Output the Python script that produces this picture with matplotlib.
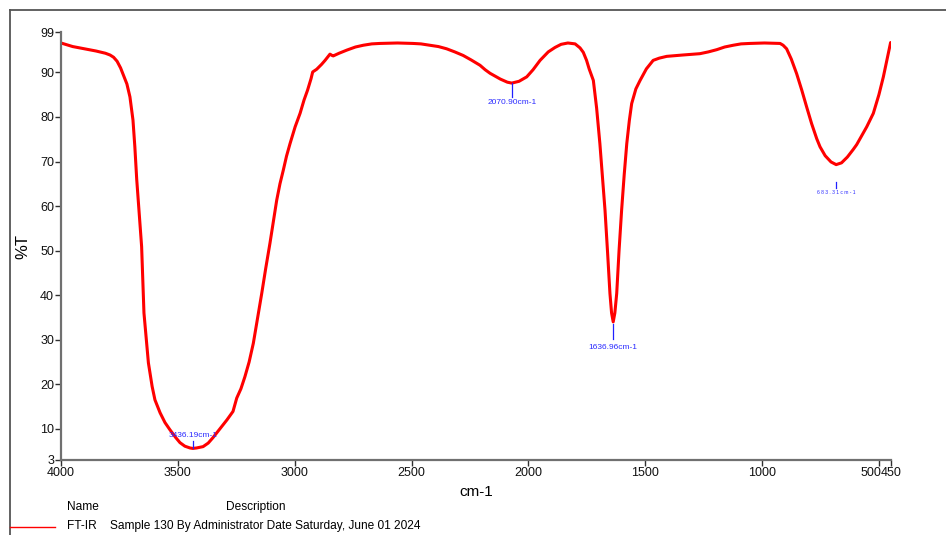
import matplotlib
matplotlib.use("Agg")
import matplotlib.pyplot as plt
from matplotlib.lines import Line2D
from matplotlib.transforms import ScaledTranslation

plt.rcParams['font.family'] = ['Liberation Sans', 'DejaVu Sans']
fs = 8.6

# Spectrum trace (wavenumber cm-1, %T)
wavenumber = [4000, 3950, 3900, 3850, 3810, 3790, 3775, 3760, 3745, 3730, 3718, 3705, 3692,
              3684, 3676, 3665, 3655, 3645, 3626, 3610, 3598, 3576, 3555, 3534,
              3510, 3491, 3470, 3448, 3436, 3420, 3392, 3370, 3350, 3320, 3290,
              3264, 3248, 3230, 3213, 3195, 3177, 3160, 3141, 3124, 3106, 3090,
              3077, 3063, 3049, 3035, 3020, 2998, 2977, 2960, 2945, 2930, 2923,
              2906, 2885, 2870, 2858, 2849, 2840, 2835, 2810, 2777, 2740, 2706,
              2670, 2635, 2560, 2494, 2460, 2421, 2385, 2350, 2315, 2279, 2245,
              2207, 2185, 2164, 2120, 2090, 2071, 2040, 2007, 1980, 1950, 1915,
              1886, 1860, 1831, 1800, 1779, 1765, 1751, 1740, 1722, 1708, 1694,
              1683, 1672, 1661, 1651, 1644, 1637, 1630, 1622, 1612, 1601, 1590,
              1579, 1568, 1558, 1540, 1522, 1495, 1466, 1440, 1408, 1340, 1266,
              1230, 1194, 1160, 1123, 1090, 1052, 990, 923, 910, 895, 875, 852,
              830, 809, 788, 766, 752, 730, 705, 683, 660, 635, 610, 595, 581,
              552, 524, 500, 481, 465, 450]
transmittance = [96.6, 95.8, 95.3, 94.8, 94.3, 93.9, 93.4, 92.5, 91.0, 89.0, 87.4, 84.5, 79.3,
                 73.3, 66.0, 58.0, 50.9, 36.0, 24.8, 19.5, 16.5, 13.6, 11.4, 9.8,
                 8.1, 6.9, 6.1, 5.7, 5.6, 5.7, 6.0, 6.8, 8.0, 10.0, 12.0,
                 13.9, 16.9, 19.0, 21.7, 25.0, 29.2, 34.5, 40.4, 46.0, 51.6, 57.0,
                 61.3, 65.0, 68.0, 71.2, 74.0, 77.8, 80.8, 83.8, 86.0, 88.6, 90.1,
                 90.7, 91.8, 92.7, 93.5, 94.1, 93.8, 93.7, 94.3, 95.0, 95.7, 96.1,
                 96.4, 96.5, 96.6, 96.5, 96.4, 96.1, 95.8, 95.3, 94.6, 93.8, 92.8,
                 91.6, 90.6, 89.8, 88.5, 87.8, 87.6, 88.0, 89.0, 90.6, 92.7, 94.6,
                 95.6, 96.3, 96.6, 96.4, 95.5, 94.5, 92.7, 90.8, 88.2, 82.0, 74.0,
                 66.5, 59.0, 49.5, 40.4, 36.0, 34.0, 36.0, 40.4, 50.0, 59.1, 67.0,
                 74.0, 79.2, 83.0, 86.3, 88.2, 90.8, 92.7, 93.2, 93.6, 93.9, 94.2,
                 94.6, 95.1, 95.7, 96.1, 96.4, 96.5, 96.6, 96.5, 96.1, 95.3, 93.0, 89.7,
                 86.0, 82.2, 78.5, 75.1, 73.3, 71.3, 69.9, 69.3, 69.7, 71.0, 72.7, 73.8, 75.1,
                 77.8, 80.8, 85.0, 89.0, 93.0, 96.7]

# Peak labels
peak_positions = [3436.19, 2070.90, 1636.96, 683.31]
peak_labels = ["3436.19cm-1", "2070.90cm-1", "1636.96cm-1", "6 8 3 . 3 1 c m - 1"]

x_ticks = [4000, 3500, 3000, 2500, 2000, 1500, 1000, 500, 450]
y_ticks = [99, 90, 80, 70, 60, 50, 40, 30, 20, 10, 3]

W, H = 946, 535
fig = plt.figure(figsize=(W / 100, H / 100), dpi=100)
ax = fig.add_axes([61 / W, 1 - 460 / H, 829.6 / W, (460 - 32.3) / H])

ax.plot(wavenumber, transmittance, color='#ff0000', lw=2.2, solid_capstyle='round',
        solid_joinstyle='round')
ax.set_xlim(4000, 450)
ax.set_ylim(3, 99)
ax.set_xticks(x_ticks)
ax.set_xticklabels([str(t) for t in x_ticks])
ax.set_yticks(y_ticks)
ax.set_yticklabels([str(t) for t in y_ticks])

for s in ['top', 'right']:
    ax.spines[s].set_visible(False)
for s in ['left', 'bottom']:
    ax.spines[s].set_color('#707070')
    ax.spines[s].set_linewidth(1.6)
ax.tick_params(axis='both', direction='out', length=4, width=1, color='#303030',
               labelsize=fs + 0.4, labelcolor='#111111', pad=1)
labels = ax.get_xticklabels()
labels[-2].set_horizontalalignment('right')
labels[-2].set_transform(labels[-2].get_transform() + ScaledTranslation(2 / 100, 0, fig.dpi_scale_trans))
labels[-1].set_horizontalalignment('left')
labels[-1].set_transform(labels[-1].get_transform() + ScaledTranslation(-9.6 / 100, 0, fig.dpi_scale_trans))

ax.set_xlabel('cm-1', fontsize=11, labelpad=4)
ax.set_ylabel('%T', fontsize=12, labelpad=7)

# Peak annotations: (tick bottom, tick top, text centre, text size)
ann_cfg = [
    ((5.8, 7.2), 8.6, 6.0),
    ((84.5, 87.6), 83.2, 6.0),
    ((30.2, 33.6), 28.3, 6.0),
    ((64.1, 65.4), 63.1, 3.6),
]
for pos, lab, (tick, ty, size) in zip(peak_positions, peak_labels, ann_cfg):
    ax.plot([pos, pos], tick, color='#2020ff', lw=0.9)
    ax.text(pos, ty, lab, color='#2b2bff', fontsize=size, ha='center', va='center')

# Outer frame (left and top lines)
fig.add_artist(Line2D([9.5 / W, 9.5 / W], [0, 1 - 10 / H], transform=fig.transFigure,
                      color='#555555', lw=1.3))
fig.add_artist(Line2D([9.5 / W, 1], [1 - 10 / H, 1 - 10 / H], transform=fig.transFigure,
                      color='#555555', lw=1.3))

# Legend block at bottom
fig.text(67 / W, 1 - 507 / H, 'Name', fontsize=fs, va='center', ha='left')
fig.text(226 / W, 1 - 507 / H, 'Description', fontsize=fs, va='center', ha='left')
fig.add_artist(Line2D([10 / W, 55 / W], [1 - 527 / H, 1 - 527 / H],
                      transform=fig.transFigure, color='#ff0000', lw=1.0))
fig.text(67 / W, 1 - 526 / H, 'FT-IR', fontsize=fs, va='center', ha='left')
fig.text(110 / W, 1 - 526 / H, 'Sample 130 By Administrator Date Saturday, June 01 2024',
         fontsize=fs, va='center', ha='left')

fig.savefig('out.png', dpi=100)
